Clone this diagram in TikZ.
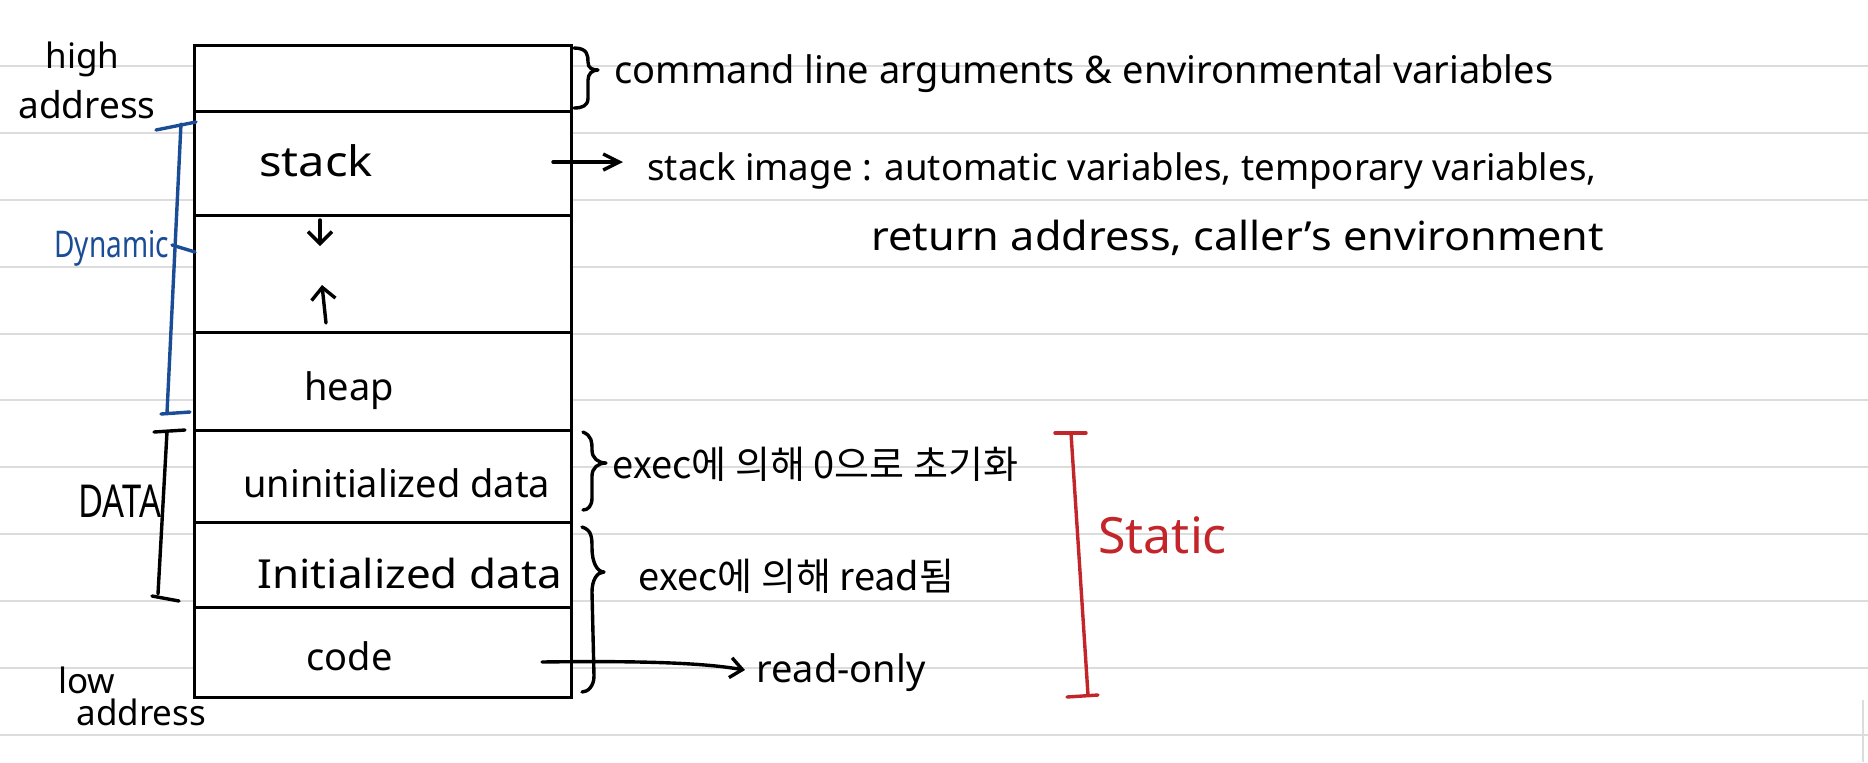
\documentclass[tikz,border=0pt]{standalone}
\usepackage{fontspec}
\setmainfont{Noto Sans}
\newfontfamily\kr{Noto Sans CJK KR}
\usetikzlibrary{arrows.meta}
\definecolor{rulegray}{HTML}{DCDCDC}
\definecolor{dynblue}{HTML}{1B4C96}
\definecolor{statred}{HTML}{C3262A}
\begin{document}
\begin{tikzpicture}[x=0.5pt,y=-0.5pt,
  ruleline/.style={rulegray,line width=1pt},
  cellbg/.style={fill=white,draw=none,minimum width=188pt,inner sep=0pt},
  boxline/.style={line width=1.8pt,line join=miter},
  pen/.style={line width=1.7pt,line cap=round,line join=round},
  hand/.style={inner sep=0pt,anchor=base west,font=\fontsize{19}{23}\selectfont},
  small/.style={hand,font=\fontsize{17.5}{20}\selectfont},
  korean/.style={hand,font=\kr\fontsize{19}{23}\selectfont},
  tipbig/.style={-{Straight Barb[length=8pt,width=8pt,line width=1.7pt]}},
  tipsmall/.style={-{Straight Barb[length=6pt,width=12pt,line width=1.7pt]}}
]
\useasboundingbox (0,0) rectangle (1868,762);
\fill[white] (0,0) rectangle (1868,762);
% ruled paper
\foreach \yy in {66,133,200,267,334,400,467,534,601,668,735}
  \draw[ruleline] (0,\yy) -- (1868,\yy);
\draw[rulegray,line width=1pt] (1863,700) -- (1863,762);

% memory cells
\node[cellbg,minimum height=32.5pt] (c1) at (383,78.5) {};
\node[cellbg,minimum height=52pt]   (c2) at (383,163) {};
\node[cellbg,minimum height=58.5pt] (c3) at (383,273.5) {};
\node[cellbg,minimum height=49pt]   (c4) at (383,381) {};
\node[cellbg,minimum height=46pt]   (c5) at (383,476) {};
\node[cellbg,minimum height=42.5pt] (c6) at (383,564.5) {};
\node[cellbg,minimum height=45pt]   (c7) at (383,652) {};
\draw[boxline] (c1.north west) rectangle (c7.south east);
\foreach \c in {c1,c2,c3,c4,c5,c6}
  \draw[boxline] (\c.south west) -- (\c.south east);

% cell labels
\node[hand,font=\fontsize{21}{25}\selectfont] (lstack) at (259,176) {\scalebox{1.12}[1]{stack}};
\node[hand] (lheap) at (304,400) {heap};
\node[hand] (luninit) at (243,497) {uninitialized data};
\node[hand,font=\fontsize{20}{24}\selectfont] (linit) at (257,588) {\scalebox{1.1}[1]{Initialized data}};
\node[hand] (lcode) at (306,670) {code};

% growth arrows
\coordinate (da1) at (320,220); \coordinate (da2) at (320,246);
\draw[pen,tipsmall] (da1) -- (da2);
\coordinate (ua1) at (326,323); \coordinate (ua2) at (322,285);
\draw[pen,tipsmall] (ua1) -- (ua2);

% address labels
\node[small] (high) at (45,68) {high};
\node[small,font=\fontsize{18.5}{21}\selectfont] (haddr) at (18,118) {address};
\node[small] (low) at (58,693) {low};
\node[small] (laddr) at (76,725) {address};

% top brace and text
\draw[pen] (574,48) .. controls (588,48) and (588,56) .. (588,62)
  .. controls (588,68) and (592,70) .. (598,70)
  .. controls (592,70) and (588,74) .. (588,80)
  -- (588,98) .. controls (588,106) and (582,108) .. (574,108);
\node[hand] (cmd) at (614,83) {command line arguments \& environmental variables};

% stack image
\coordinate (sa) at (553,162); \coordinate (sb) at (623,162);
\draw[pen,tipbig] (sa) -- (sb);
\node[hand,font=\fontsize{18.3}{22}\selectfont] (simg) at (647,180) {stack image : automatic variables, temporary variables,};
\node[hand,font=\fontsize{20}{24}\selectfont] (sret) at (871,250) {\scalebox{1.08}[1]{return address, caller's environment}};

% Dynamic bracket (blue)
\begin{scope}[dynblue]
\draw[pen] (156,130) -- (196,122);
\draw[pen] (181,124) -- (167,413);
\draw[pen] (161,414) -- (190,412);
\node[hand,text=dynblue,font=\fontsize{17.5}{21}\selectfont] (dyn) at (54,257) {\scalebox{0.8}[1.05]{Dynamic}};
\coordinate (dk) at (172,245);
\coordinate (dbox) at (195,252);
\draw[pen] (dk) -- (dbox);
\end{scope}

% DATA bracket
\draw[pen] (154,432) -- (185,430);
\draw[pen] (167,432) -- (158,594);
\draw[pen] (152,596) -- (179,601);
\node[hand,font=\fontsize{21}{24}\selectfont] (data) at (78,517) {\scalebox{0.82}[1.08]{DATA}};

% braces for data segments
\draw[pen] (583,432) .. controls (592,436) and (592,442) .. (592,450)
  .. controls (592,458) and (598,463) .. (606,463)
  .. controls (598,463) and (592,468) .. (592,476)
  -- (592,498) .. controls (592,506) and (588,510) .. (583,510);
\node[korean] (kinit0) at (612,478) {exec에 의해 0으로 초기화};

\draw[pen] (582,527) .. controls (592,530) and (592,538) .. (592,548)
  .. controls (592,562) and (597,572) .. (604,572)
  .. controls (597,572) and (592,580) .. (592,592)
  -- (594,676) .. controls (594,686) and (588,692) .. (582,692);
\node[korean] (kread) at (638,590) {exec에 의해 read됨};

% code -> read-only
\coordinate (ca) at (542,662); \coordinate (cb) at (745,670);
\draw[pen,-{Straight Barb[length=6pt,width=10pt,line width=1.7pt]}] (ca) .. controls (680,660) and (720,666) .. (cb);
\node[hand] (ronly) at (756,682) {read-only};

% Static bracket (red)
\begin{scope}[statred]
\draw[pen] (1055,433) -- (1086,433);
\draw[pen] (1071,433) -- (1088,695);
\draw[pen] (1067,697) -- (1098,695);
\node[hand,text=statred,font=\fontsize{25}{29}\selectfont] (stat) at (1098,553) {Static};
\end{scope}
\end{tikzpicture}
\end{document}
